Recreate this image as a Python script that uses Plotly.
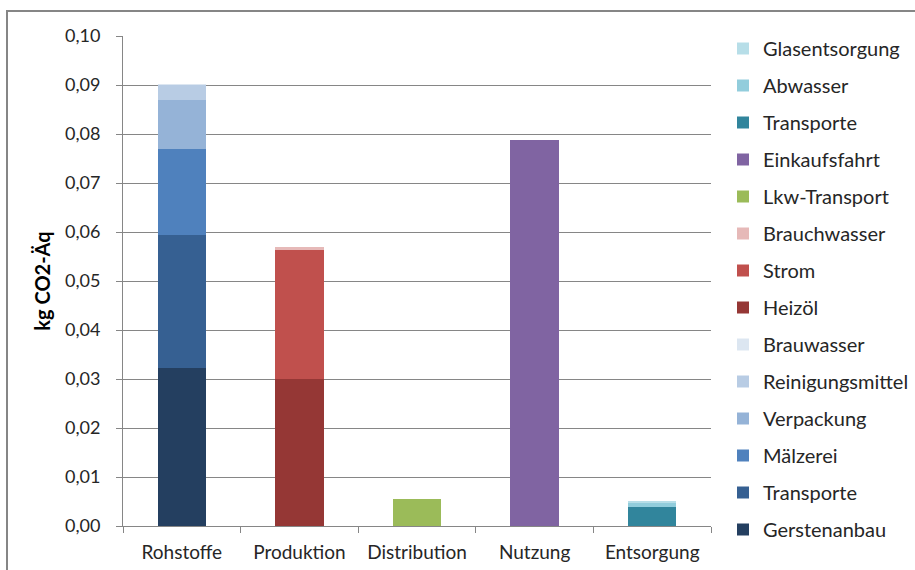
import plotly.graph_objects as go

categories = ["Rohstoffe", "Produktion", "Distribution", "Nutzung", "Entsorgung"]

series_names = ["Gerstenanbau", "Transporte", "Mälzerei", "Verpackung", "Reinigungsmittel",
                "Brauwasser", "Heizöl", "Strom", "Brauchwasser", "Lkw-Transport",
                "Einkaufsfahrt", "Transporte", "Abwasser", "Glasentsorgung"]

gerstenanbau     = [0.0322, 0, 0, 0, 0]
transporte_roh   = [0.0271, 0, 0, 0, 0]
maelzerei        = [0.0176, 0, 0, 0, 0]
verpackung       = [0.0100, 0, 0, 0, 0]
reinigungsmittel = [0.0031, 0, 0, 0, 0]
brauwasser       = [0.0002, 0, 0, 0, 0]
heizoel          = [0, 0.0300, 0, 0, 0]
strom            = [0, 0.0264, 0, 0, 0]
brauchwasser     = [0, 0.0006, 0, 0, 0]
lkw_transport    = [0, 0, 0.0055, 0, 0]
einkaufsfahrt    = [0, 0, 0, 0.0787, 0]
transporte_ent   = [0, 0, 0, 0, 0.0039]
abwasser         = [0, 0, 0, 0, 0.0007]
glasentsorgung   = [0, 0, 0, 0, 0.0005]

series_values = [gerstenanbau, transporte_roh, maelzerei, verpackung, reinigungsmittel,
                 brauwasser, heizoel, strom, brauchwasser, lkw_transport,
                 einkaufsfahrt, transporte_ent, abwasser, glasentsorgung]

colors = ["#243F60", "#366092", "#4F81BD", "#95B3D7", "#B8CCE4", "#DCE6F1",
          "#953735", "#C0504D", "#E6B9B8", "#9BBB59", "#8064A2",
          "#31859C", "#92CDDC", "#B7DEE8"]

FONT = "Lato"
TXT = "#262626"

fig = go.Figure()
n = len(series_names)
for i, (name, vals, col) in enumerate(zip(series_names, series_values, colors)):
    fig.add_trace(go.Bar(
        x=categories, y=vals, name=name, marker=dict(color=col, line=dict(width=0)),
        legendgroup="g%d" % i, legendrank=100 + (n - i),
    ))

# plot area in pixels
L, R, T, B = 123, 711, 36, 526
W, H = 915, 570
pw, ph = R - L, B - T

def px_x(x):
    return (x - L) / pw

def px_y(y):
    return (B - y) / ph

fig.update_layout(
    width=W, height=H,
    margin=dict(l=L, r=W - R, t=T, b=H - B, autoexpand=False),
    barmode="stack",
    bargap=0.59,
    separators=",.",
    plot_bgcolor="white",
    paper_bgcolor="white",
    font=dict(family=FONT, size=18, color=TXT),
    showlegend=True,
    legend=dict(
        traceorder="grouped",
        x=px_x(723), xanchor="left",
        y=px_y(29), yanchor="top",
        font=dict(family=FONT, size=20, color=TXT),
        tracegroupgap=8,
        bgcolor="rgba(0,0,0,0)",
        itemclick=False,
        maxheight=560,
    ),
    xaxis=dict(
        showline=True, linecolor="#868686", linewidth=1,
        ticks="outside", tickson="boundaries", ticklen=6, tickcolor="#868686",
        ticklabelstandoff=9,
        showgrid=False, tickfont=dict(family=FONT, size=19, color=TXT),
    ),
    yaxis=dict(
        range=[0, 0.1], dtick=0.01, tickformat=".2f",
        showline=True, linecolor="#868686", linewidth=1,
        ticks="outside", ticklen=6, tickcolor="#868686",
        ticklabelstandoff=12,
        showgrid=True, gridcolor="#868686", gridwidth=1,
        zeroline=False,
        tickfont=dict(family=FONT, size=18, color=TXT),
        title=dict(text="<b>kg CO2-Äq</b>", standoff=8,
                   font=dict(family=FONT, size=20, color="#000000")),
    ),
    shapes=[dict(
        type="rect", xref="paper", yref="paper",
        x0=px_x(7), x1=px_x(925), y0=px_y(580), y1=px_y(11),
        line=dict(color="#868686", width=2), fillcolor="rgba(0,0,0,0)", layer="below",
    )],
)

fig.write_html("out.html")
